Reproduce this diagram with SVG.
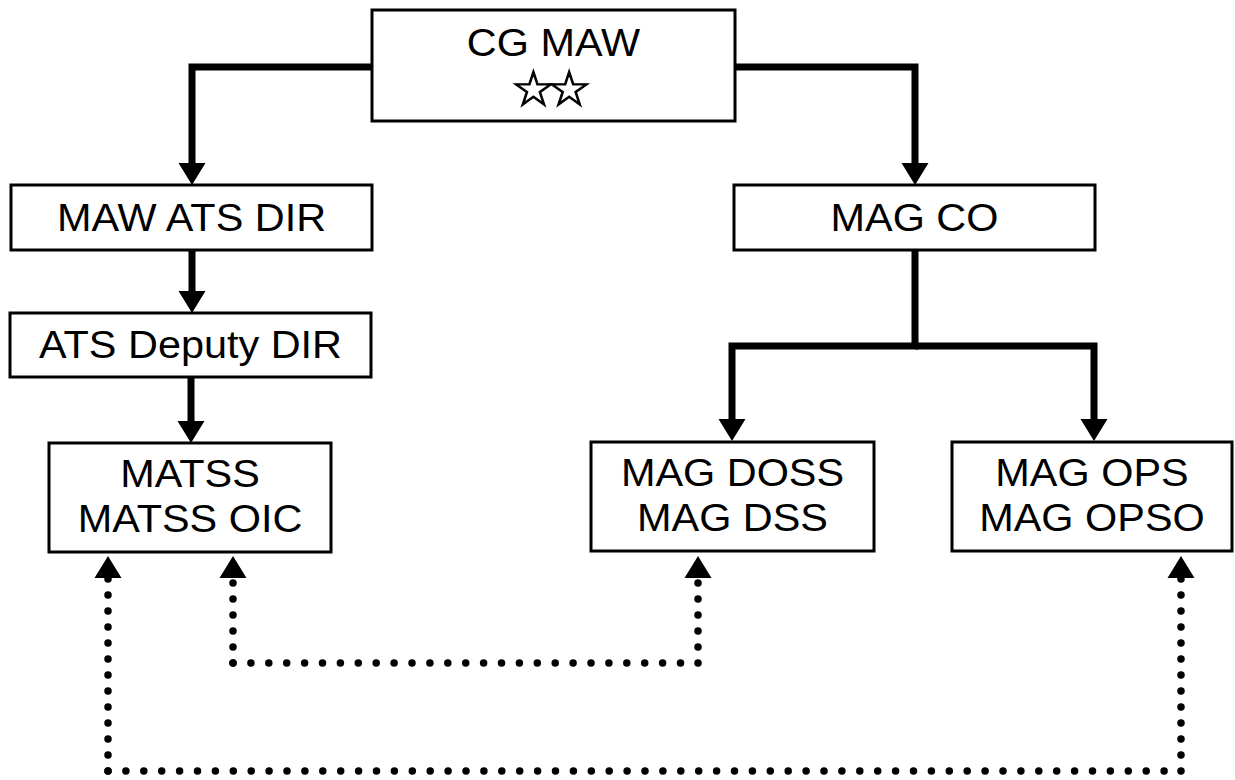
<svg xmlns="http://www.w3.org/2000/svg" width="1235" height="780" viewBox="0 0 1235 780">
<style>
.box{fill:#fff;stroke:#000;stroke-width:3}
.t{font-family:"Liberation Sans",Arial,sans-serif;font-size:38px;fill:#000;text-anchor:middle}
.star{font-family:"DejaVu Sans",sans-serif;font-size:50px;fill:#000;stroke:#000;stroke-width:1.2;letter-spacing:-9px}
.solid{fill:none;stroke:#000;stroke-width:7;stroke-linejoin:miter;stroke-linecap:butt}
.dv{fill:none;stroke:#000;stroke-width:7.5;stroke-linecap:round;stroke-dasharray:0 16}
.dh{fill:none;stroke:#000;stroke-width:7.5;stroke-linecap:round;stroke-dasharray:0 17.9}
</style>
<defs>
<marker id="arr" markerUnits="userSpaceOnUse" markerWidth="24" markerHeight="28" refX="0" refY="13.5" orient="auto" overflow="visible">
<path d="M0,0 L22,13.5 L0,27 Z" fill="#000"/>
</marker>
</defs>
<rect width="1235" height="780" fill="#fff"/>
<g id="connectors">
<path class="solid" d="M372,67 H192 V163" marker-end="url(#arr)"/>
<path class="solid" d="M735,67 H915 V163" marker-end="url(#arr)"/>
<path class="solid" d="M192,251 V291" marker-end="url(#arr)"/>
<path class="solid" d="M191,378 V421" marker-end="url(#arr)"/>
<path class="solid" d="M915,251 V346 H732 V419" marker-end="url(#arr)"/>
<path class="solid" d="M915,346 H1094 V419" marker-end="url(#arr)"/>
<path class="dv" d="M108,771 V578" marker-end="url(#arr)"/>
<path class="dh" d="M108,771 H1181"/>
<path class="dv" d="M1181,771 V578" marker-end="url(#arr)"/>
<path class="dv" d="M233,663 V578" marker-end="url(#arr)"/>
<path class="dh" d="M233,663 H698"/>
<path class="dv" d="M698,663 V578" marker-end="url(#arr)"/>
</g>
<g id="cg-maw">
<rect class="box" x="372" y="10" width="363" height="111"/>
<text class="t" transform="translate(553.5,56) scale(1.09,1)">CG MAW</text>
<text class="star" x="511" y="106">☆☆</text>
</g>
<g id="maw-ats-dir">
<rect class="box" x="11" y="185" width="361" height="65"/>
<text class="t" transform="translate(191.5,231) scale(1.09,1)">MAW ATS DIR</text>
</g>
<g id="mag-co">
<rect class="box" x="734" y="185" width="361" height="65"/>
<text class="t" transform="translate(914.5,231) scale(1.09,1)">MAG CO</text>
</g>
<g id="ats-deputy-dir">
<rect class="box" x="10" y="313" width="361" height="64"/>
<text class="t" transform="translate(190.5,358) scale(1.09,1)">ATS Deputy DIR</text>
</g>
<g id="matss">
<rect class="box" x="49" y="443" width="282" height="109"/>
<text class="t" transform="translate(190,487) scale(1.09,1)">MATSS</text>
<text class="t" transform="translate(190,532) scale(1.09,1)">MATSS OIC</text>
</g>
<g id="mag-doss">
<rect class="box" x="591" y="442" width="283" height="109"/>
<text class="t" transform="translate(732.5,486) scale(1.09,1)">MAG DOSS</text>
<text class="t" transform="translate(732.5,531) scale(1.09,1)">MAG DSS</text>
</g>
<g id="mag-ops">
<rect class="box" x="952" y="442" width="280" height="109"/>
<text class="t" transform="translate(1092,486) scale(1.09,1)">MAG OPS</text>
<text class="t" transform="translate(1092,531) scale(1.09,1)">MAG OPSO</text>
</g>
</svg>
